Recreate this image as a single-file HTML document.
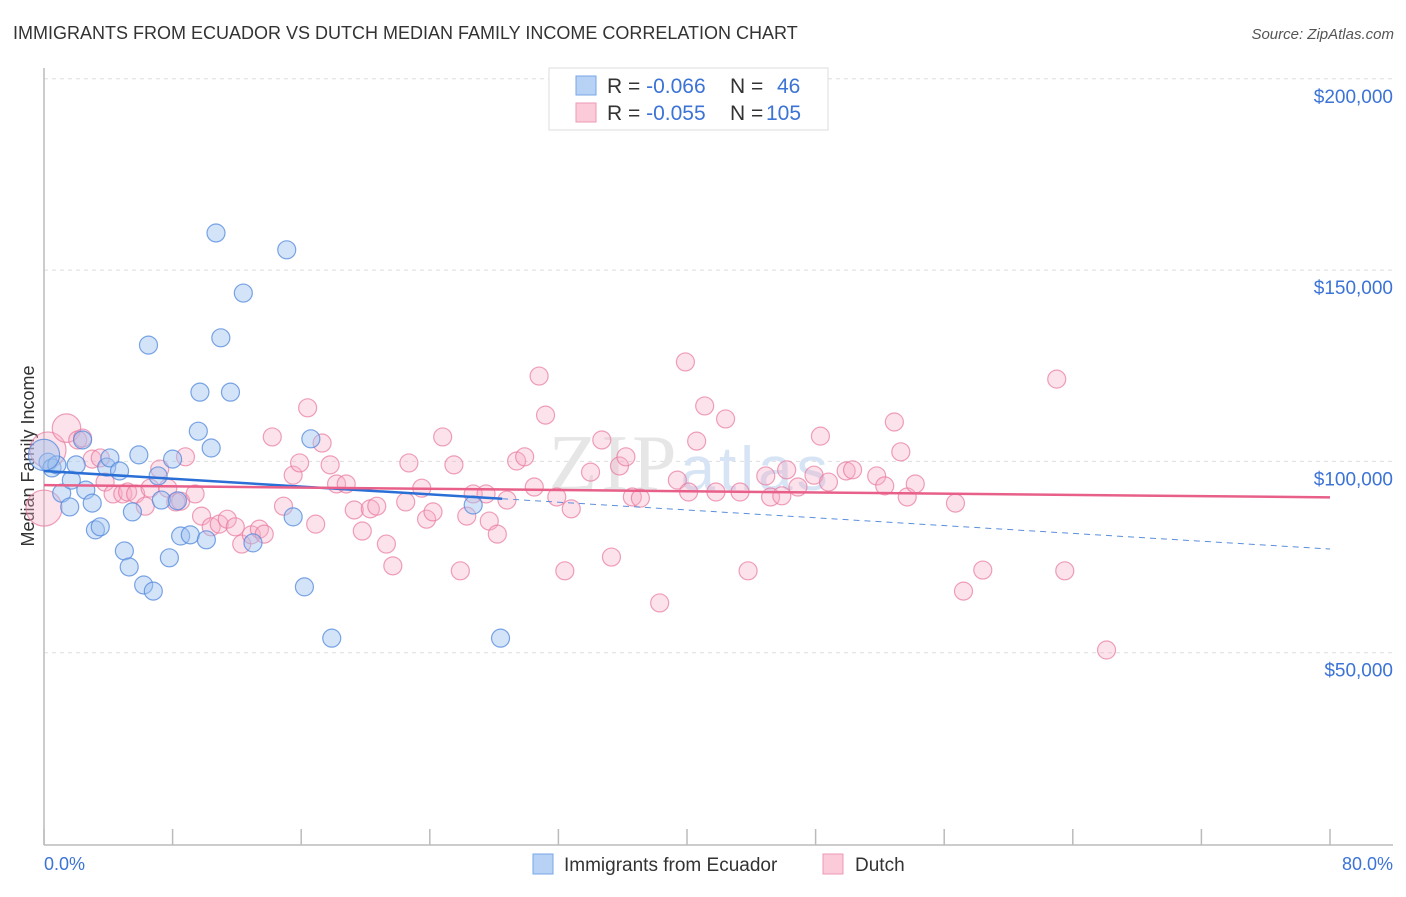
<!DOCTYPE html>
<html><head><meta charset="utf-8"><style>
body{margin:0;background:#fff;font-family:"Liberation Sans",sans-serif}
</style></head><body>
<svg id="chart" width="1406" height="892" xmlns="http://www.w3.org/2000/svg" font-family="Liberation Sans, sans-serif">
<text x="13" y="39" font-size="18" fill="#333">IMMIGRANTS FROM ECUADOR VS DUTCH MEDIAN FAMILY INCOME CORRELATION CHART</text>
<text x="1394" y="39" font-size="15" fill="#555" text-anchor="end" font-style="italic">Source: ZipAtlas.com</text>
<text transform="translate(34,456) rotate(-90)" font-size="18" fill="#333" text-anchor="middle">Median Family Income</text>
<g id="grid"></g>
<text x="690" y="490" font-size="80" fill="#e6e6e6" text-anchor="middle" font-family="Liberation Serif, serif" letter-spacing="4">ZIP<tspan fill="#d6e4f5" font-family="Liberation Sans, sans-serif" font-size="62">atlas</tspan></text>
<line x1="44" y1="68" x2="44" y2="845" stroke="#bbb" stroke-width="1.5"/>
<line x1="44" y1="845" x2="1393" y2="845" stroke="#bbb" stroke-width="1.5"/>
<g id="ticks"></g>
<g id="pts"></g>
<g id="lines"></g>
<text x="44" y="870" font-size="18" fill="#3b73d6">0.0%</text>
<text x="1393" y="870" font-size="18" fill="#3b73d6" text-anchor="end">80.0%</text>
<g>
<rect x="549" y="68" width="279" height="62" fill="#fff" stroke="#ddd"/>
<rect x="576" y="76" width="20" height="19" fill="#b8d2f5" stroke="#7aa6e6"/>
<rect x="576" y="103" width="20" height="19" fill="#fbcbd9" stroke="#ee9ab4"/>
<text x="607" y="93" font-size="21" fill="#333">R = <tspan fill="#3b73d6">-0.066</tspan><tspan x="730">N =</tspan><tspan x="777" fill="#3b73d6">46</tspan></text>
<text x="607" y="120" font-size="21" fill="#333">R = <tspan fill="#3b73d6">-0.055</tspan><tspan x="730">N =</tspan><tspan x="766" fill="#3b73d6">105</tspan></text>
</g>
<g>
<rect x="533" y="854" width="20" height="20" fill="#b8d2f5" stroke="#7aa6e6"/>
<text x="564" y="871" font-size="19" fill="#333">Immigrants from Ecuador</text>
<rect x="823" y="854" width="20" height="20" fill="#fbcbd9" stroke="#ee9ab4"/>
<text x="855" y="871" font-size="19" fill="#333">Dutch</text>
</g>
</svg>
<script>
const yTicks=[50000,100000,150000,200000];
const yTickLabels=["$50,000","$100,000","$150,000","$200,000"];
const xTicks=[0,8,16,24,32,40,48,56,64,72,80];
const blueX=[0.25,0.5,0.8,1.1,1.6,1.7,2.0,2.4,2.6,3.0,3.2,3.5,3.9,4.1,4.7,5.0,5.3,5.5,5.9,6.2,6.5,6.8,7.1,7.3,7.8,8.0,8.3,8.5,9.1,9.6,9.7,10.1,10.4,10.7,11.0,11.6,12.4,13.0,15.1,15.5,16.2,16.6,17.9,26.7,28.4,0.0];
const blueY=[99.8,98.3,99.1,91.7,88.1,95.1,99.1,105.6,92.5,89.1,82.1,82.9,98.5,100.9,97.5,76.6,72.4,86.8,101.7,67.7,130.4,66.1,96.2,89.9,74.8,100.6,89.7,80.5,80.8,107.9,118.1,79.5,103.5,159.7,132.3,118.1,144.0,78.7,155.3,85.5,67.2,105.9,53.8,88.6,53.8,101.7];
const pinkX=[0.0,0.25,1.4,2.1,2.4,3.0,3.5,3.8,4.3,4.9,5.2,5.7,6.3,6.6,7.2,7.7,8.2,8.5,8.8,9.4,9.8,10.4,10.9,11.4,11.9,12.3,12.9,13.4,13.7,14.2,14.9,15.5,15.9,16.4,16.9,17.3,17.8,18.2,18.8,19.3,19.8,20.3,20.7,21.3,21.7,22.5,22.7,23.5,23.8,24.2,24.8,25.5,25.9,26.3,26.7,27.5,27.7,28.2,28.8,29.4,29.9,30.5,30.8,31.2,31.9,32.4,32.8,34.0,34.7,35.3,35.8,36.2,36.6,37.1,38.3,39.4,39.9,40.1,40.6,41.1,41.8,42.4,43.3,43.8,44.9,45.2,45.9,46.2,46.9,47.9,48.3,48.8,49.9,50.3,51.8,52.3,52.9,53.3,53.7,54.2,56.7,57.2,58.4,63.0,63.5,66.1];
const pinkY=[87.8,103.0,108.7,105.6,106.1,100.6,100.9,94.6,91.5,91.5,92.0,91.5,88.3,93.0,98.0,93.0,89.4,89.6,101.2,91.5,85.7,82.9,83.6,84.9,82.9,78.4,80.8,82.3,81.0,106.4,88.3,96.4,99.6,114.0,83.6,104.8,99.1,94.1,94.1,87.3,81.8,87.6,88.3,78.4,72.7,89.4,99.6,93.0,84.9,86.8,106.4,99.1,71.4,85.7,91.5,91.5,84.4,81.0,89.9,100.1,101.2,93.3,122.3,112.1,90.7,71.4,87.6,97.2,105.6,75.0,98.8,101.2,90.7,90.4,63.0,95.1,126.0,92.0,105.3,114.5,92.0,111.1,92.0,71.4,96.2,90.7,91.0,97.8,93.3,96.4,106.6,94.6,97.5,97.8,96.2,93.6,110.3,102.5,90.7,94.1,89.1,66.1,71.6,121.5,71.4,50.7];
const blueWeight=[1,1,1,1,1,1,1,1,1,1,1,1,1,1,1,1,1,1,1,1,1,1,1,1,1,1,1,1,1,1,1,1,1,1,1,1,1,1,1,1,1,1,1,1,1,3];
const pinkWeight=[4,4,2.5];
const blueTrend=[97.5,77.1];
const pinkTrend=[93.8,90.6];
const blueSolidEnd=28.5;
const NS="http://www.w3.org/2000/svg";
const X=v=>44+v/80*1286;
const Y=k=>844-k*1000/50000*191.3;
function mk(tag,attrs,parent){const e=document.createElementNS(NS,tag);for(const k in attrs)e.setAttribute(k,attrs[k]);parent.appendChild(e);return e;}
const grid=document.getElementById('grid');
yTicks.forEach((t,i)=>{
  const l=mk('line',{x1:44,x2:1393,y1:Y(t/1000),y2:Y(t/1000),stroke:'#ddd','stroke-dasharray':'4,4'},grid);
  
  
  const tx=mk('text',{x:1393,y:Y(t/1000)+24,'font-size':19,fill:'#3b73d6','text-anchor':'end'},grid);
  tx.textContent=yTickLabels[i];
  
  
});
const ticks=document.getElementById('ticks');
xTicks.forEach(t=>{
  const l=mk('line',{x1:X(t),x2:X(t),y1:829,y2:845,stroke:'#bbb','stroke-width':1.5},ticks);
  
  
});
const pts=document.getElementById('pts');
pinkX.forEach((x,i)=>{
  const w=pinkWeight[i]||1;
  const c=mk('circle',{cx:X(x),cy:Y(pinkY[i]),r:9*Math.sqrt(w),fill:'rgba(247,172,198,0.35)',stroke:'rgba(232,120,158,0.7)','stroke-width':1.2},pts);
  
  
});
blueX.forEach((x,i)=>{
  const w=blueWeight[i]||1;
  const c=mk('circle',{cx:X(x),cy:Y(blueY[i]),r:9*Math.sqrt(w),fill:'rgba(160,195,240,0.45)',stroke:'rgba(80,135,220,0.75)','stroke-width':1.2},pts);
  
  
});
const lines=document.getElementById('lines');
const bAt=x=>blueTrend[0]+(blueTrend[1]-blueTrend[0])*x/80;
let l1=mk('line',{x1:X(0),y1:Y(bAt(0)),x2:X(blueSolidEnd),y2:Y(bAt(blueSolidEnd)),stroke:'#2a6fd6','stroke-width':2.5},lines);


let l2=mk('line',{x1:X(blueSolidEnd),y1:Y(bAt(blueSolidEnd)),x2:X(80),y2:Y(bAt(80)),stroke:'#5b8fdc','stroke-width':1,'stroke-dasharray':'6,5'},lines);


let l3=mk('line',{x1:X(0),y1:Y(pinkTrend[0]),x2:X(80),y2:Y(pinkTrend[1]),stroke:'#e8608a','stroke-width':2.5},lines);


</script>
</body></html>
